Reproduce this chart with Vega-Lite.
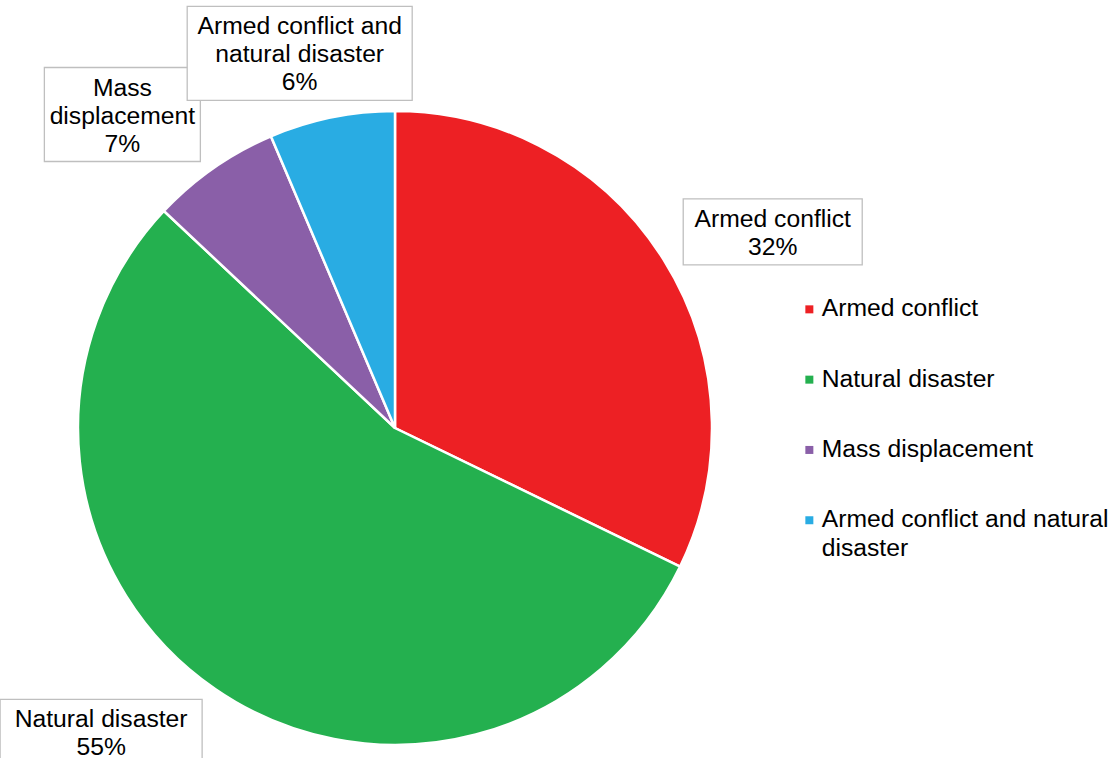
{
  "$schema": "https://vega.github.io/schema/vega-lite/v6.json",
  "width": 634,
  "height": 634,
  "autosize": "none",
  "padding": {"left": 78, "top": 111, "right": 406, "bottom": 13},
  "background": "white",
  "config": {
    "view": {"stroke": null},
    "font": "Liberation Sans",
    "style": {"guide-label": {"lineHeight": 29}}
  },
  "data": {
    "values": [
      {"category": "Armed conflict", "share": 32.2, "label": "Armed conflict"},
      {"category": "Natural disaster", "share": 54.8, "label": "Natural disaster"},
      {"category": "Mass displacement", "share": 6.6, "label": "Mass\ndisplacement"},
      {"category": "Armed conflict and natural disaster", "share": 6.4, "label": "Armed conflict and\nnatural disaster"}
    ]
  },
  "transform": [
    {"window": [{"op": "row_number", "as": "idx"}]},
    {"window": [{"op": "sum", "field": "share", "as": "cum"}], "sort": [{"field": "idx"}], "frame": [null, 0]},
    {"joinaggregate": [{"op": "sum", "field": "share", "as": "total"}]},
    {"calculate": "2*PI*(datum.cum - datum.share/2)/datum.total", "as": "mid"},
    {"calculate": "sin(datum.mid)", "as": "sn"},
    {"calculate": "cos(datum.mid)", "as": "cs"},
    {"calculate": "split(datum.label, '\\n')", "as": "lines"},
    {"calculate": "max(length(datum.lines[0]), datum.lines.length > 1 ? length(datum.lines[1]) : 0, datum.lines.length > 2 ? length(datum.lines[2]) : 0)", "as": "nch"},
    {"calculate": "(datum.nch*11.5 + 18)/317", "as": "bw"},
    {"calculate": "((datum.lines.length + 1)*28 + 10)/317", "as": "bh"},
    {"calculate": "1.0726*datum.sn", "as": "ax"},
    {"calculate": "1.0726*datum.cs", "as": "ay"},
    {"calculate": "clamp(0.5 - 0.55*datum.sn - 1.5*pow(datum.sn, 3), 0, 1)", "as": "fx"},
    {"calculate": "clamp(0.5 + 0.45*datum.cs, 0, 1)", "as": "gy"},
    {"calculate": "datum.ax - datum.bw*datum.fx", "as": "bx1"},
    {"calculate": "datum.bx1 + datum.bw", "as": "bx2"},
    {"calculate": "datum.ay + datum.bh*datum.gy", "as": "by1"},
    {"calculate": "datum.by1 - datum.bh", "as": "by2"},
    {"calculate": "(datum.bx1 + datum.bx2)/2", "as": "tx"},
    {"calculate": "datum.by1 - 7/317", "as": "ty"},
    {"calculate": "datum.label + '\\n' + format(datum.share/datum.total, '.0%')", "as": "boxtext"}
  ],
  "layer": [
    {
      "mark": {"type": "arc", "stroke": "white", "strokeWidth": 2.5},
      "encoding": {
        "theta": {"field": "share", "type": "quantitative", "stack": true},
        "order": {"field": "idx", "type": "quantitative"},
        "color": {
          "field": "category",
          "type": "nominal",
          "sort": ["Armed conflict", "Natural disaster", "Mass displacement", "Armed conflict and natural disaster"],
          "scale": {
            "domain": ["Armed conflict", "Natural disaster", "Mass displacement", "Armed conflict and natural disaster"],
            "range": ["#ED2024", "#24B04F", "#8A5FA8", "#29ACE3"]
          },
          "legend": {
            "title": null,
            "orient": "none",
            "legendX": 719,
            "legendY": 186,
            "padding": 0,
            "symbolType": "square",
            "symbolSize": 64,
            "symbolStrokeWidth": 0,
            "labelFont": "Liberation Sans",
            "labelFontSize": 24.7,
            "labelColor": "#000000",
            "labelOffset": 0,
            "labelLimit": 400,
            "rowPadding": 44.3,
            "labelExpr": "datum.label == 'Armed conflict and natural disaster' ? ['Armed conflict and natural', 'disaster'] : datum.label"
          }
        }
      }
    },
    {
      "mark": {"type": "rect", "fill": "white", "stroke": "#BFBFBF", "strokeWidth": 1.3},
      "encoding": {
        "x": {"field": "bx1", "type": "quantitative", "scale": {"domain": [-1, 1], "nice": false, "zero": false}, "axis": null},
        "x2": {"field": "bx2"},
        "y": {"field": "by1", "type": "quantitative", "scale": {"domain": [-1, 1], "nice": false, "zero": false}, "axis": null},
        "y2": {"field": "by2"}
      }
    },
    {
      "mark": {"type": "text", "align": "center", "baseline": "line-top", "lineBreak": "\n", "lineHeight": 28, "fontSize": 24.7, "font": "Liberation Sans", "color": "#000000"},
      "encoding": {
        "x": {"field": "tx", "type": "quantitative", "scale": {"domain": [-1, 1], "nice": false, "zero": false}, "axis": null},
        "y": {"field": "ty", "type": "quantitative", "scale": {"domain": [-1, 1], "nice": false, "zero": false}, "axis": null},
        "text": {"field": "boxtext", "type": "nominal"}
      }
    }
  ]
}
